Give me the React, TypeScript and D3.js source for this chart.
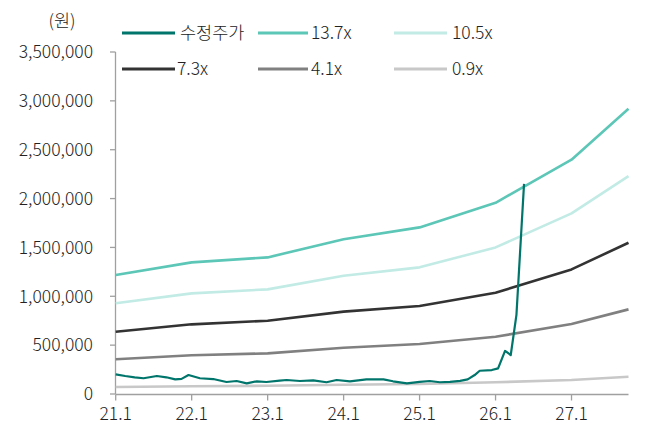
import React from "react";
import * as d3 from "d3";

const W = 646;
const H = 427;

// x positions as months since 2021-01
const bandMonths = [0, 12, 24, 36, 48, 60, 72, 81];
const band137 = [1217000, 1347000, 1398000, 1584000, 1705000, 1957000, 2398000, 2920000];
const band105 = [928000, 1030000, 1071000, 1211000, 1296000, 1500000, 1848000, 2230000];
const band73 = [637000, 713000, 750000, 843000, 900000, 1036000, 1275000, 1548000];
const band41 = [355000, 396000, 416000, 474000, 511000, 586000, 716000, 866000];
const band09 = [72000, 80000, 84000, 95000, 103000, 120000, 143000, 177000];

const priceMonths = [
  0, 1.5, 3, 4.4, 6.5, 8, 9.4, 10.4, 11.5, 13.3, 15.4, 17.5, 19.1, 20.7, 22.3, 23.8,
  25.9, 27, 29.1, 31.2, 33.3, 34.9, 37, 39.6, 42.3, 43.8, 46, 48, 49.6, 51.2, 52.8,
  54.4, 55.6, 56.7, 57.5, 59.4, 60.4, 61.5, 62.4, 63.3, 64.5,
];
const priceValues = [
  201000, 184000, 171000, 161000, 184000, 171000, 150000, 155000, 194000, 161000, 153000,
  123000, 133000, 109000, 130000, 123000, 136000, 143000, 133000, 140000, 120000, 143000,
  130000, 150000, 150000, 130000, 109000, 125000, 133000, 120000, 125000, 135000, 150000,
  194000, 238000, 245000, 262000, 441000, 399000, 810000, 2150000,
];

const yTicks = [0, 500000, 1000000, 1500000, 2000000, 2500000, 3000000, 3500000];
const xTickMonths = [0, 12, 24, 36, 48, 60, 72];
const xTickLabels = ["21.1", "22.1", "23.1", "24.1", "25.1", "26.1", "27.1"];

const seriesNames = ["수정주가", "13.7x", "10.5x", "7.3x", "4.1x", "0.9x"];
const seriesColors = ["#00756b", "#5cc6b7", "#c2ebe5", "#333333", "#808080", "#c8c8c8"];

const FONT = "'Noto Sans CJK KR', 'Noto Sans', sans-serif";

export default function App() {
  const x = d3.scaleLinear().domain([0, 81]).range([115.7, 628.5]);
  const y = d3.scaleLinear().domain([0, 3500000]).range([394, 52]);
  const line = d3
    .line<[number, number]>()
    .x((d) => x(d[0]))
    .y((d) => y(d[1]));

  const bands = [band137, band105, band73, band41, band09];
  const bandColors = seriesColors.slice(1);
  const fmt = d3.format(",");

  const legendPos = [
    { x1: 122, x2: 175, ty: 33, tx: 180 },
    { x1: 258, x2: 308, ty: 33, tx: 311 },
    { x1: 394, x2: 447, ty: 33, tx: 452 },
    { x1: 122, x2: 175, ty: 69, tx: 177 },
    { x1: 258, x2: 308, ty: 69, tx: 311 },
    { x1: 394, x2: 447, ty: 69, tx: 452 },
  ];

  return (
    <svg
      width={W}
      height={H}
      style={{ position: "absolute", left: 0, top: 0, background: "#fff" }}
      fontFamily={FONT}
      fontWeight={300}
    >
      {/* axes */}
      <line x1={115.5} x2={115.5} y1={52} y2={394} stroke="#a0a0a0" strokeWidth={1.3} />
      <line x1={115.5} x2={628.5} y1={394.5} y2={394.5} stroke="#a0a0a0" strokeWidth={1.3} />
      {yTicks.map((t) => (
        <g key={t}>
          <line x1={110} x2={115.5} y1={y(t)} y2={y(t)} stroke="#a0a0a0" strokeWidth={1.3} />
          <text x={93} y={y(t)} dy="0.36em" textAnchor="end" fontSize={17.5} fill="#222">
            {fmt(t)}
          </text>
        </g>
      ))}
      {xTickMonths.map((m, i) => (
        <g key={m}>
          <line x1={x(m)} x2={x(m)} y1={394.5} y2={400.5} stroke="#a0a0a0" strokeWidth={1.3} />
          <text x={x(m)} y={420} textAnchor="middle" fontSize={17.5} fill="#222">
            {xTickLabels[i]}
          </text>
        </g>
      ))}
      <text x={62} y={27} textAnchor="middle" fontSize={17.5} fill="#222">
        (원)
      </text>

      {/* bands (lighter first) */}
      {bands
        .map((b, i) => ({ b, i }))
        .reverse()
        .map(({ b, i }) => (
          <path
            key={i}
            d={line(bandMonths.map((m, k) => [m, b[k]] as [number, number])) || ""}
            fill="none"
            stroke={bandColors[i]}
            strokeWidth={2.6}
            strokeLinejoin="round"
          />
        ))}
      <path
        d={line(priceMonths.map((m, k) => [m, priceValues[k]] as [number, number])) || ""}
        fill="none"
        stroke={seriesColors[0]}
        strokeWidth={2.2}
        strokeLinejoin="round"
      />

      {/* legend */}
      {seriesNames.map((name, si) => {
        const p = legendPos[si];
        return (
          <g key={name}>
            <line x1={p.x1} x2={p.x2} y1={p.ty} y2={p.ty} stroke={seriesColors[si]} strokeWidth={2.8} />
            <text x={p.tx} y={p.ty} dy="0.36em" fontSize={17.5} fill="#222">
              {name}
            </text>
          </g>
        );
      })}
    </svg>
  );
}
